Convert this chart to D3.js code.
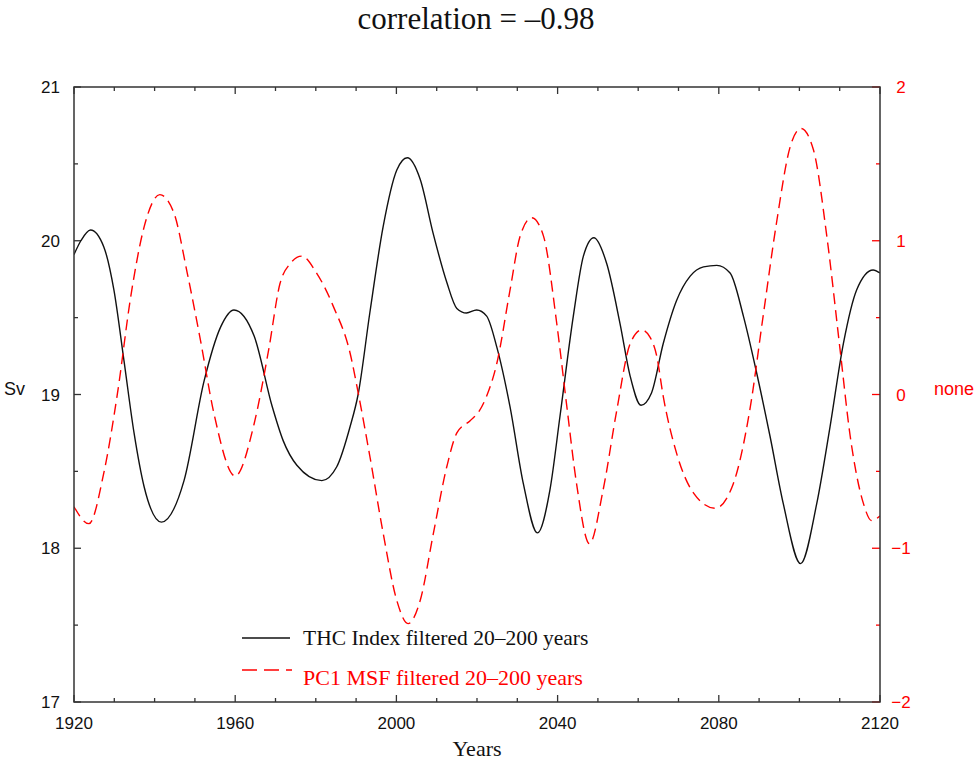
<!DOCTYPE html>
<html>
<head>
<meta charset="utf-8">
<script src="https://cdn.jsdelivr.net/npm/d3@7"></script>
<style>
  html, body { margin: 0; padding: 0; background: #fff; }
  svg { display: block; }
</style>
</head>
<body>
<svg id="chart" width="980" height="764"></svg>
<script>
// THC index (Sv), 20–200 year band-pass filtered
const thcYears = [1920, 1921.7, 1924.1, 1927.4, 1929.9, 1932.4, 1934.9, 1937.4, 1941.7, 1947.3,
  1952.3, 1956.4, 1959.7, 1964.7, 1969.2, 1971.9, 1975.3, 1981.5, 1985.2, 1988.5,
  1990.5, 1993.4, 1996.7, 2000.1, 2002.7, 2005.9, 2009.1, 2012.5, 2015.0, 2017.4,
  2019.9, 2022.4, 2024.9, 2028.2, 2031.5, 2035.0, 2038.1, 2040.6, 2043.9, 2046.4,
  2049.0, 2052.2, 2055.5, 2058.0, 2060.7, 2063.3, 2066.2, 2069.5, 2072.9, 2076.2,
  2079.5, 2082.8, 2086.1, 2089.4, 2092.7, 2096.0, 2100.3, 2104.3, 2107.6, 2110.9,
  2114.2, 2118.3, 2120];
const thcValues = [19.91, 20.00, 20.07, 19.96, 19.68, 19.22, 18.75, 18.40, 18.17, 18.44,
  19.09, 19.44, 19.55, 19.38, 18.92, 18.70, 18.54, 18.44, 18.53, 18.79,
  19.00, 19.53, 20.09, 20.46, 20.54, 20.40, 20.05, 19.73, 19.56, 19.53,
  19.55, 19.51, 19.31, 18.92, 18.42, 18.10, 18.38, 18.86, 19.51, 19.90,
  20.02, 19.85, 19.46, 19.12, 18.93, 19.01, 19.33, 19.61, 19.77, 19.83,
  19.84, 19.79, 19.51, 19.14, 18.73, 18.29, 17.90, 18.29, 18.79, 19.33,
  19.68, 19.81, 19.79];

// PC1 of the meridional stream function, same filter
const pcYears = [1920, 1923.7, 1927.4, 1930.8, 1934.1, 1937.4, 1941.3, 1944.8, 1948.1, 1951.4,
  1954.7, 1960.0, 1964.7, 1968.3, 1971.1, 1973.6, 1976.5, 1980.2, 1984.4, 1988.5,
  1990.6, 1993.4, 1996.7, 2000.1, 2002.9, 2005.9, 2009.2, 2012.5, 2015.0, 2018.3,
  2020.5, 2022.4, 2024.9, 2028.2, 2030.7, 2033.6, 2036.5, 2039.8, 2042.3, 2044.7,
  2047.9, 2051.3, 2054.7, 2058.0, 2060.9, 2063.0, 2064.6, 2066.2, 2069.5, 2073.7,
  2079.1, 2083.6, 2087.7, 2091.0, 2094.4, 2097.7, 2100.4, 2103.5, 2106.8, 2110.1,
  2112.6, 2115.9, 2117.9, 2120];
const pcValues = [-0.73, -0.84, -0.51, 0.01, 0.64, 1.09, 1.30, 1.18, 0.79, 0.35,
  -0.12, -0.53, -0.19, 0.29, 0.72, 0.85, 0.90, 0.79, 0.57, 0.27,
  0.00, -0.40, -0.90, -1.34, -1.49, -1.34, -0.90, -0.47, -0.25, -0.17,
  -0.11, -0.01, 0.20, 0.68, 1.03, 1.15, 1.03, 0.46, -0.08, -0.58,
  -0.97, -0.62, -0.10, 0.33, 0.42, 0.37, 0.25, -0.01, -0.38, -0.64,
  -0.74, -0.58, -0.10, 0.51, 1.13, 1.61, 1.73, 1.59, 1.03, 0.29,
  -0.27, -0.71, -0.82, -0.79];

const xTickLabels = ["1920", "1960", "2000", "2040", "2080", "2120"];
const leftTickLabels = ["17", "18", "19", "20", "21"];
const rightTickLabels = ["\u22122", "\u22121", "0", "1", "2"];

const titleText = "correlation = \u20130.98";
const legendLabels = ["THC Index filtered 20\u2013200 years", "PC1 MSF filtered 20\u2013200 years"];

const svg = d3.select("#chart");
const L = 74, R = 880, T = 87, B = 702;
const RED = "#ff0000";
const AXIS = "#333";

const x = d3.scaleLinear().domain([1920, 2120]).range([L, R]);
const yL = d3.scaleLinear().domain([17, 21]).range([B, T]);
const yR = d3.scaleLinear().domain([-2, 2]).range([B, T]);

svg.append("defs").append("clipPath").attr("id", "plot")
  .append("rect").attr("x", L).attr("y", T).attr("width", R - L).attr("height", B - T);

// tick marks (drawn inward)
const xMinor = d3.range(1920, 2121, 10);
const g = svg.append("g");
xMinor.forEach(v => {
  const len = v % 40 === 0 ? 7 : 4;
  g.append("line").attr("x1", x(v)).attr("x2", x(v)).attr("y1", B).attr("y2", B - len)
    .attr("stroke", AXIS).attr("stroke-width", 1.3);
  g.append("line").attr("x1", x(v)).attr("x2", x(v)).attr("y1", T).attr("y2", T + len)
    .attr("stroke", AXIS).attr("stroke-width", 1.3);
});
d3.range(17, 21.01, 0.5).forEach(v => {
  const len = Number.isInteger(v) ? 7 : 4;
  g.append("line").attr("x1", L).attr("x2", L + len).attr("y1", yL(v)).attr("y2", yL(v))
    .attr("stroke", AXIS).attr("stroke-width", 1.3);
});
d3.range(-2, 2.01, 0.5).forEach(v => {
  const len = Number.isInteger(v) ? 8 : 4;
  g.append("line").attr("x1", R).attr("x2", R - len).attr("y1", yR(v)).attr("y2", yR(v))
    .attr("stroke", RED).attr("stroke-width", 1.3);
});

// series
const lineL = d3.line().x(d => x(d[0])).y(d => yL(d[1])).curve(d3.curveMonotoneX);
const lineR = d3.line().x(d => x(d[0])).y(d => yR(d[1])).curve(d3.curveMonotoneX);

svg.append("path").attr("clip-path", "url(#plot)")
  .attr("d", lineL(d3.zip(thcYears, thcValues)))
  .attr("fill", "none").attr("stroke", "#111").attr("stroke-width", 1.4);

svg.append("path").attr("clip-path", "url(#plot)")
  .attr("d", lineR(d3.zip(pcYears, pcValues)))
  .attr("fill", "none").attr("stroke", RED).attr("stroke-width", 1.4)
  .attr("stroke-dasharray", "11,6");

// frame
svg.append("rect").attr("x", L).attr("y", T).attr("width", R - L).attr("height", B - T)
  .attr("fill", "none").attr("stroke", AXIS).attr("stroke-width", 1.5);

// tick labels
const tickFont = "'Liberation Sans', Arial, sans-serif";
xTickLabels.forEach(s => {
  svg.append("text").attr("x", x(+s)).attr("y", 729)
    .attr("text-anchor", "middle").attr("font-family", tickFont).attr("font-size", 17)
    .attr("fill", "#111").text(s);
});
leftTickLabels.forEach(s => {
  svg.append("text").attr("x", 60).attr("y", yL(+s) + 6)
    .attr("text-anchor", "end").attr("font-family", tickFont).attr("font-size", 17)
    .attr("fill", "#111").text(s);
});
const rightVals = [-2, -1, 0, 1, 2];
rightTickLabels.forEach((s, i) => {
  svg.append("text").attr("x", 901).attr("y", yR(rightVals[i]) + 6)
    .attr("text-anchor", "middle").attr("font-family", tickFont).attr("font-size", 17)
    .attr("fill", RED).text(s);
});

// axis titles
svg.append("text").attr("x", 4).attr("y", 395)
  .attr("font-family", tickFont).attr("font-size", 18).attr("fill", "#111").text("Sv");
svg.append("text").attr("x", 934).attr("y", 395)
  .attr("font-family", tickFont).attr("font-size", 18).attr("fill", RED).text("none");

const serif = "'Liberation Serif', 'Times New Roman', serif";
svg.append("text").attr("x", 477).attr("y", 756).attr("text-anchor", "middle")
  .attr("font-family", serif).attr("font-size", 22).attr("fill", "#111").text("Years");

svg.append("text").attr("x", 476).attr("y", 29).attr("text-anchor", "middle")
  .attr("font-family", serif).attr("font-size", 31).attr("fill", "#111").text(titleText);

// legend
const legend = svg.append("g");
legend.append("line").attr("x1", 242).attr("x2", 290).attr("y1", 638).attr("y2", 638)
  .attr("stroke", "#111").attr("stroke-width", 1.4);
legend.append("text").attr("x", 303).attr("y", 645)
  .attr("font-family", serif).attr("font-size", 21.5).attr("fill", "#111").text(legendLabels[0]);
legend.append("line").attr("x1", 242).attr("x2", 292).attr("y1", 670).attr("y2", 670)
  .attr("stroke", RED).attr("stroke-width", 1.4).attr("stroke-dasharray", "15,7");
legend.append("text").attr("x", 303).attr("y", 685)
  .attr("font-family", serif).attr("font-size", 22).attr("fill", RED).text(legendLabels[1]);
</script>
</body>
</html>
